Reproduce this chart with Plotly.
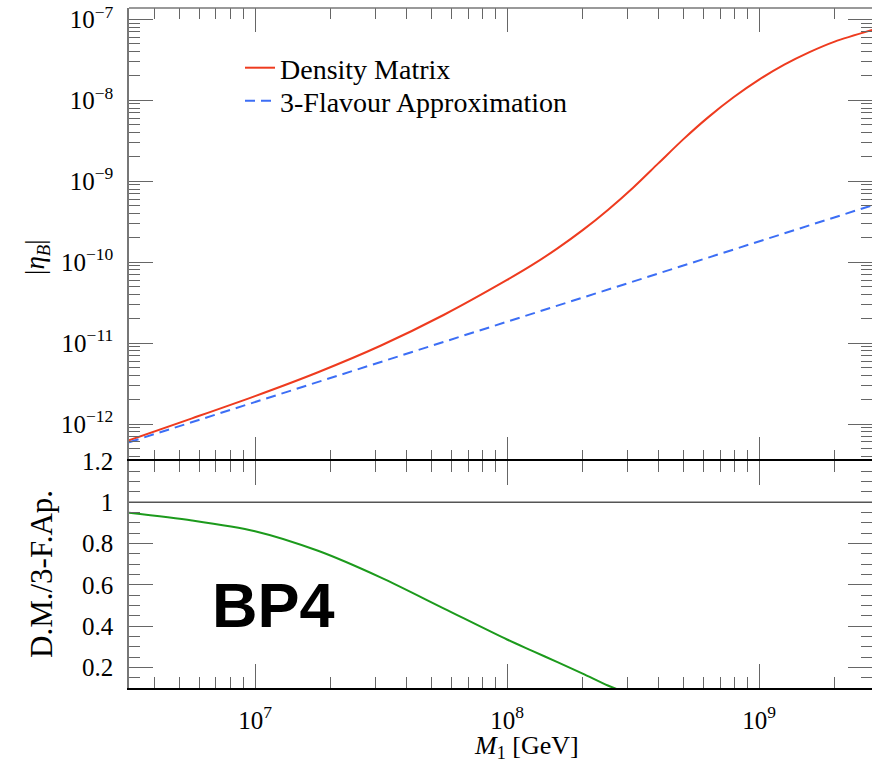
import plotly.graph_objects as go

# ---------------- data ----------------
# Density-matrix solution: log10(M1/GeV) and log10|eta_B|
logM_dm = [6.5, 6.75, 7.0, 7.25, 7.5, 7.75, 8.0, 8.1, 8.2, 8.3, 8.4, 8.5,
           8.6, 8.7, 8.8, 8.9, 9.0, 9.1, 9.2, 9.3, 9.45]
logeta_dm = [-12.20, -11.93, -11.655, -11.36, -11.03, -10.65, -10.22, -10.035,
             -9.83, -9.605, -9.355, -9.08, -8.78, -8.48, -8.205, -7.96, -7.745,
             -7.56, -7.405, -7.275, -7.13]

# 3-flavour approximation
logM_3f = [6.5, 7.0, 7.5, 8.0, 8.5, 9.0, 9.45]
logeta_3f = [-12.225, -11.73, -11.232, -10.736, -10.24, -9.744, -9.297]

# ratio panel  D.M. / 3-F.Ap.
logM_ratio = [6.5, 6.75, 7.0, 7.25, 7.5, 7.75, 8.0, 8.1, 8.2, 8.3, 8.4, 8.45]
ratio_vals = [0.949, 0.912, 0.860, 0.765, 0.635, 0.485, 0.335, 0.280, 0.225, 0.170, 0.112, 0.088]

x_major = [1e7, 1e8, 1e9]
x_major_text = ["10<sup>7</sup>", "10<sup>8</sup>", "10<sup>9</sup>"]
y_major = [1e-12, 1e-11, 1e-10, 1e-9, 1e-8, 1e-7]
y_major_text = ["10<sup>\u221212</sup>", "10<sup>\u221211</sup>", "10<sup>\u221210</sup>",
                "10<sup>\u22129</sup>", "10<sup>\u22128</sup>", "10<sup>\u22127</sup>"]
r_major = [0.2, 0.4, 0.6, 0.8, 1.0, 1.2]
r_major_text = ["0.2", "0.4", "0.6", "0.8", "1", "1.2"]

# ---------------- derived values ----------------
M_dm = [10 ** v for v in logM_dm]
eta_dm = [10 ** v for v in logeta_dm]
M_3f = [10 ** v for v in logM_3f]
eta_3f = [10 ** v for v in logeta_3f]
M_ratio = [10 ** v for v in logM_ratio]

x_minor = [k * 10 ** e for e in range(6, 10) for k in range(2, 10)]
y_minor = [k * 10 ** e for e in range(-13, -6) for k in range(2, 10)]
r_minor = [round(0.1 + 0.05 * i, 2) for i in range(23)]
r_minor = [v for v in r_minor if all(abs(v - m) > 1e-6 for m in r_major)]

RED = "#ee3b1f"
BLUE = "#3c6ef5"
GREEN = "#1c9a1c"
TICK = "#666666"
FRAME = "#777777"
FONT = "Liberation Serif"

fig = go.Figure()
fig.add_trace(go.Scatter(x=M_dm, y=eta_dm, mode="lines", name="Density Matrix",
                         line=dict(color=RED, width=2, shape="spline", smoothing=0.8),
                         xaxis="x", yaxis="y", legend="legend"))
fig.add_trace(go.Scatter(x=M_3f, y=eta_3f, mode="lines", name="3-Flavour Approximation",
                         line=dict(color=BLUE, width=2, dash="10px,6px"),
                         xaxis="x", yaxis="y", legend="legend2"))
fig.add_trace(go.Scatter(x=M_ratio, y=ratio_vals, mode="lines", showlegend=False,
                         line=dict(color=GREEN, width=2, shape="spline", smoothing=0.8),
                         xaxis="x2", yaxis="y2"))

PLOT_H = 680
split = (688 - 461) / PLOT_H
common_ticks = dict(ticks="inside", tickcolor=TICK, tickwidth=1.3, showgrid=False,
                    zeroline=False, linewidth=1.5, mirror="ticks", automargin=False)
minor_style = dict(ticklen=11, ticks="inside", tickcolor=TICK, tickwidth=1.3)
leg_style = dict(xanchor="left", yanchor="middle", bgcolor="rgba(0,0,0,0)",
                 font=dict(size=28, family=FONT))

fig.update_layout(
    width=872, height=762,
    margin=dict(l=129, r=0, t=8, b=74, autoexpand=False),
    paper_bgcolor="white", plot_bgcolor="white",
    font=dict(family=FONT, size=25, color="black"),
    xaxis=dict(type="log", range=[6.5, 9.448], domain=[0, 1], anchor="y",
               showticklabels=False, tickvals=x_major, ticklen=24, showline=False,
               minor=dict(tickvals=x_minor, **minor_style), **common_ticks),
    yaxis=dict(type="log", range=[-12.457, -6.86], domain=[split, 1],
               anchor="x", tickvals=y_major, ticktext=y_major_text, ticklen=24,
               showline=True, linecolor=FRAME, ticklabelstandoff=9,
               minor=dict(tickvals=y_minor, **minor_style), **common_ticks),
    xaxis2=dict(type="log", range=[6.5, 9.448], domain=[0, 1], anchor="y2",
                tickvals=x_major, ticktext=x_major_text, ticklen=24,
                showline=True, linecolor="black", ticklabelstandoff=9,
                minor=dict(tickvals=x_minor, **minor_style), **common_ticks),
    yaxis2=dict(range=[0.1, 1.2], domain=[0, split], anchor="x2",
                tickvals=r_major, ticktext=r_major_text, ticklen=24,
                showline=True, linecolor=FRAME, ticklabelstandoff=9,
                minor=dict(tickvals=r_minor, **minor_style), **common_ticks),
    legend=dict(x=(240 - 129) / 743, y=(688 - 68) / PLOT_H, **leg_style),
    legend2=dict(x=(240 - 129) / 743, y=(688 - 101) / PLOT_H, **leg_style),
    shapes=[
        dict(type="line", xref="x2 domain", x0=0, x1=1, yref="y2", y0=1, y1=1,
             line=dict(color="#555555", width=1.5)),
        dict(type="line", xref="paper", x0=0, x1=1, yref="paper", y0=1, y1=1,
             line=dict(color=FRAME, width=1.5)),
    ],
    annotations=[
        dict(text="|<i>\u03b7</i><sub><i>B</i></sub>|", xref="paper", yref="paper",
             x=(37 - 129) / 743, y=(688 - 257) / PLOT_H, textangle=-90, showarrow=False,
             xanchor="center", yanchor="middle", font=dict(size=27)),
        dict(text="D.M./3-F.Ap.", xref="paper", yref="paper",
             x=(41 - 129) / 743, y=(688 - 574) / PLOT_H, textangle=-90, showarrow=False,
             xanchor="center", yanchor="middle", font=dict(size=31)),
        dict(text="<i>M</i><sub>1</sub> [GeV]", xref="paper", yref="paper",
             x=(526 - 129) / 743, y=(688 - 747) / PLOT_H, showarrow=False,
             xanchor="center", yanchor="middle", font=dict(size=26)),
        dict(text="<b>BP4</b>", xref="paper", yref="paper",
             x=(273 - 129) / 743, y=(688 - 605) / PLOT_H, showarrow=False,
             xanchor="center", yanchor="middle",
             font=dict(size=63, family="Liberation Sans", color="black")),
    ],
)

fig.write_html("out.html", config={"displayModeBar": False},
               post_script="document.body.style.margin='0px';")
